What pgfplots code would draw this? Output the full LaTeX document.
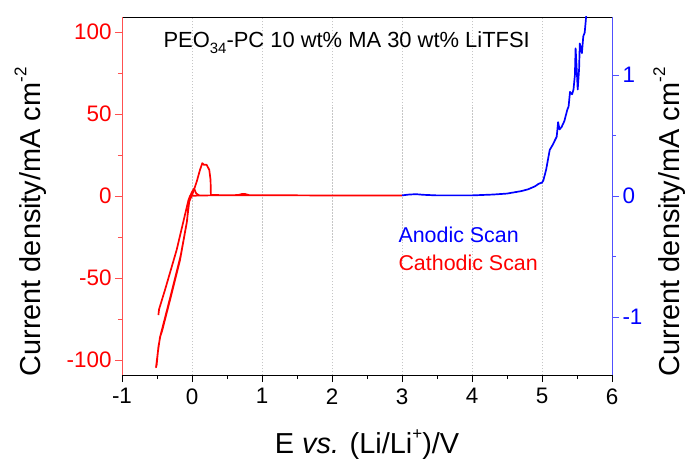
\documentclass[border=0pt]{standalone}
\usepackage{pgfplots}
\pgfplotsset{compat=1.18}
\usepackage{fontspec}
\setmainfont{Liberation Sans}
\definecolor{axred}{RGB}{255,80,80}
\definecolor{axblue}{RGB}{80,80,255}
\newcommand{\supr}[1]{\raisebox{0.95ex}{\fontsize{17}{17}\selectfont #1}}
\begin{document}
\begin{tikzpicture}
\pgfplotsset{
  common/.style={
    scale only axis, width=490bp, height=358bp,
    xmin=-1, xmax=6,
    /pgf/number format/assume math mode=true,
    tick label style={font=\fontsize{22.5}{26}\selectfont},
    label style={font=\fontsize{29}{33}\selectfont},
    tick align=outside,
    major tick length=7bp, minor tick length=4bp,
    every tick/.style={line width=0.8pt},
  }
}
\begin{axis}[common, name=ax,
  ymin=-109.15, ymax=109.15,
  axis y line*=left,
  xtick={-1,0,...,6}, minor x tick num=1,
  xtick pos=bottom,
  ytick={-100,-50,0,50,100}, minor y tick num=1,
  y axis line style={axred, line width=0.9pt},
  x axis line style={black, line width=0.8pt},
  y tick style={axred},
  yticklabel style={red},
  xticklabel style={yshift=-3bp},
  xmajorgrids, major grid style={gray!45, line width=0.5pt, dash pattern=on 1.5pt off 1.5pt},
  xlabel={E \textit{vs.} (Li/Li\supr{+})/V},
  ylabel={Current density/mA cm\supr{-2}},
  xlabel style={yshift=-18bp},
  ylabel style={yshift=13bp, xshift=-26bp},
]
\addplot[red, line width=1.7pt, line join=round] coordinates {
(3.00,0.3) (2.5,0.3) (2.0,0.3) (1.5,0.4) (1.0,0.5) (0.82,0.5) (0.76,1.2) (0.72,1.3) (0.66,0.6) (0.5,0.4) (0.3,0.4) (0.1,0.3) (-0.03,0)
(-0.076,-16.5) (-0.171,-39) (-0.314,-63.4) (-0.43,-82.7) (-0.457,-86) (-0.49,-96) (-0.514,-104.5)
(-0.505,-103) (-0.48,-92) (-0.45,-85) (-0.42,-80) (-0.30,-60) (-0.16,-36) (-0.07,-15) (-0.05,-4.5)
(0.019,2.6) (0.067,8.7) (0.114,15.9) (0.147,20) (0.17,19) (0.21,19) (0.247,15.9) (0.265,9.8) (0.27,0.6) (0.5,0.5) (1.0,0.5)
};
\addplot[red, line width=1.7pt, line join=round] coordinates {
(-0.48,-72.6) (-0.47,-69) (-0.386,-57.3) (-0.22,-33) (-0.05,-2.4) (0.0,2.5) (0.03,4.5) (0.06,1.5) (0.1,0.5)
};
\node[anchor=center, font=\fontsize{22}{25}\selectfont] at (axis cs:2.21,93.5) {PEO\raisebox{-0.55ex}{\fontsize{15}{15}\selectfont 34}-PC 10 wt\% MA 30 wt\% LiTFSI};
\node[anchor=west, blue, font=\fontsize{21.5}{24}\selectfont] at (axis cs:2.90,-23.8) {Anodic Scan};
\node[anchor=west, red, font=\fontsize{21.5}{24}\selectfont] at (axis cs:2.90,-40.5) {Cathodic Scan};
\end{axis}
\begin{axis}[common,
  ymin=-1.479, ymax=1.479,
  axis y line*=right, axis x line=none,
  ytick={-1,0,1}, minor y tick num=1,
  y axis line style={axblue, line width=0.9pt},
  y tick style={axblue},
  yticklabel style={blue},
  ylabel={Current density/mA cm\supr{-2}},
  ylabel style={yshift=-4bp, xshift=-26bp},
]
\addplot[blue, line width=1.7pt, line join=round] coordinates {
(3.0,0.005) (3.1,0.012) (3.2,0.015) (3.3,0.01) (3.5,0.005) (4.0,0.005) (4.3,0.012) (4.5,0.02) (4.7,0.04) (4.8,0.055) (4.9,0.08) (4.95,0.1) (4.97,0.105) (5.0,0.11) (5.02,0.13) (5.06,0.22) (5.11,0.38) (5.15,0.42) (5.21,0.49) (5.23,0.61) (5.25,0.55) (5.28,0.57) (5.32,0.62) (5.36,0.71) (5.38,0.74) (5.40,0.86) (5.43,0.84) (5.45,0.88) (5.47,1.0) (5.48,1.22) (5.50,1.0) (5.51,0.88) (5.53,1.05) (5.54,1.26) (5.57,1.18) (5.59,1.32) (5.61,1.35) (5.63,1.48) (5.64,1.55)
};
\end{axis}
\pgfresetboundingbox
\path ([xshift=-122bp,yshift=-84bp]ax.south west) rectangle ([xshift=78bp,yshift=17bp]ax.north east);
\end{tikzpicture}
\end{document}
